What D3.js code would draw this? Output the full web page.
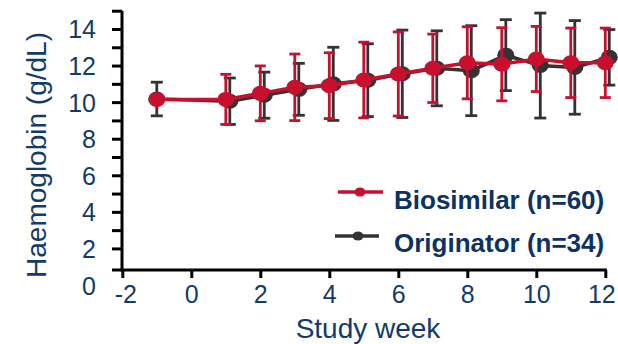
<!DOCTYPE html>
<html><head><meta charset="utf-8">
<script src="https://cdn.jsdelivr.net/npm/d3@7"></script>
<style>body{margin:0;background:#fff}svg{display:block}text{font-family:"Liberation Sans",Arial,Helvetica,sans-serif}</style>
</head><body><svg id="c" width="618" height="344"></svg>
<script>
const weeks = [-1, 1, 2, 3, 4, 5, 6, 7, 8, 9, 10, 11, 12];
const biosimilarMean = [10.15, 10.15, 10.48, 10.81, 10.90, 11.21, 11.54, 11.85, 12.15, 12.07, 12.36, 12.15, 12.15];
const biosimilarSD   = [null, 1.37, 1.50, 1.82, 1.80, 2.07, 2.30, 1.87, 1.97, 2.00, 1.78, 1.90, 1.90];
const originatorMean = [10.17, 10.05, 10.38, 10.70, 11.00, 11.20, 11.55, 11.85, 11.72, 12.57, 12.00, 11.90, 12.45];
const originatorSD   = [0.92, 1.27, 1.26, 1.42, 2.00, 1.99, 2.39, 2.05, 2.46, 1.94, 2.87, 2.56, 1.52];
const xTicks = [-2, 0, 2, 4, 6, 8, 10, 12];
const yTicks = [0, 2, 4, 6, 8, 10, 12, 14];
const yMinorTicks = [2, 3, 4, 5, 6, 7, 8, 9, 10, 11, 12, 13, 14, 15];
const seriesNames = ["Biosimilar (n=60)", "Originator (n=34)"];
const xTitle = "Study week";
const yTitle = "Haemoglobin (g/dL)";

const RED = "#C8102E", DARK = "#333333", NAVY = "#123B69", LEGNAVY = "#0C3263";
const svg = d3.select("#c");
const x = d3.scaleLinear().domain([-2, 12]).range([122.3, 605.3]);
const y = d3.scaleLinear().domain([0, 15]).range([285, 10.7]);
const axisX0 = 112, axisYpx = 270, axisXpx = 122;

// axes
const yTickG = svg.append("g").attr("transform", `translate(${axisXpx},0)`)
  .call(d3.axisLeft(y).tickValues(yMinorTicks).tickSize(10).tickFormat(""));
yTickG.select(".domain").remove();
yTickG.selectAll("line").attr("stroke", "#000").attr("stroke-width", 3);

const yLabG = svg.append("g").attr("transform", `translate(${axisXpx},0)`)
  .call(d3.axisLeft(y).tickValues(yTicks).tickSize(0).tickPadding(26).tickFormat(d => String(d)));
yLabG.select(".domain").remove();
yLabG.selectAll("text").attr("fill", NAVY).style("font-size", "25px")
  .attr("font-family", "Liberation Sans, Arial, sans-serif").attr("dy", "0.36em");

const xG = svg.append("g").attr("transform", `translate(0,${axisYpx})`)
  .call(d3.axisBottom(x).tickValues(xTicks).tickSize(8).tickPadding(25).tickFormat(d => String(d)));
xG.select(".domain").remove();
xG.selectAll("line").attr("stroke", "#000").attr("stroke-width", 3);
xG.selectAll("text").attr("fill", NAVY).style("font-size", "25px")
  .attr("font-family", "Liberation Sans, Arial, sans-serif").attr("dy", "0")
  .attr("dx", d => d === 12 ? -4 : (d === -2 ? 3 : 0));

svg.append("line").attr("x1", axisXpx).attr("x2", axisXpx).attr("y1", y(15)).attr("y2", axisYpx + 1.5)
  .attr("stroke", "#000").attr("stroke-width", 3);
svg.append("line").attr("x1", axisX0).attr("x2", x(12) + 1.5).attr("y1", axisYpx).attr("y2", axisYpx)
  .attr("stroke", "#000").attr("stroke-width", 3);

// titles
svg.append("text").attr("x", 368).attr("y", 338).attr("text-anchor", "middle")
  .attr("fill", NAVY).style("font-size", "28px").text(xTitle);
svg.append("text").attr("transform", "translate(46,155) rotate(-90)").attr("text-anchor", "middle")
  .attr("fill", NAVY).style("font-size", "28px").text(yTitle);

// series
const series = [
  {name: seriesNames[1], mean: originatorMean, sd: originatorSD, color: DARK, dodge: 4, cap: 12},
  {name: seriesNames[0], mean: biosimilarMean, sd: biosimilarSD, color: RED, dodge: 0, cap: 11}
];
series.forEach(s => {
  const pts = weeks.map((w, i) => ({w, m: s.mean[i], sd: s.sd[i]}));
  const px = d => x(d.w) + (d.w < 0 ? 0 : s.dodge);
  const g = svg.append("g");
  const eb = pts.filter(d => d.sd != null);
  g.selectAll(".v").data(eb).join("line")
    .attr("x1", px).attr("x2", px).attr("y1", d => y(d.m + d.sd)).attr("y2", d => y(d.m - d.sd))
    .attr("stroke", s.color).attr("stroke-width", 2.8);
  [1, -1].forEach(sign => {
    g.selectAll(null).data(eb).join("line")
      .attr("x1", d => px(d) - s.cap / 2).attr("x2", d => px(d) + s.cap / 2)
      .attr("y1", d => y(d.m + sign * d.sd)).attr("y2", d => y(d.m + sign * d.sd))
      .attr("stroke", s.color).attr("stroke-width", 2.8);
  });
  g.append("path").datum(pts)
    .attr("d", d3.line().x(px).y(d => y(d.m)))
    .attr("fill", "none").attr("stroke", s.color).attr("stroke-width", 3.5);
  g.selectAll("ellipse").data(pts).join("ellipse")
    .attr("cx", px).attr("cy", d => y(d.m)).attr("rx", 8.5).attr("ry", 7.5)
    .attr("fill", s.color);
});

// legend
const legend = [
  {name: seriesNames[0], color: RED, x1: 338, x2: 383, mx: 360, ly: 192, ty: 209},
  {name: seriesNames[1], color: DARK, x1: 335, x2: 379, mx: 358, ly: 236, ty: 251.5}
];
legend.forEach(l => {
  svg.append("line").attr("x1", l.x1).attr("x2", l.x2).attr("y1", l.ly).attr("y2", l.ly)
    .attr("stroke", l.color).attr("stroke-width", 3.5);
  svg.append("ellipse").attr("cx", l.mx).attr("cy", l.ly).attr("rx", 5.5).attr("ry", 4.5).attr("fill", l.color);
  svg.append("text").attr("x", 394).attr("y", l.ty).attr("fill", LEGNAVY)
    .style("font-size", "26px").style("font-weight", "bold").text(l.name);
});
</script></body></html>
